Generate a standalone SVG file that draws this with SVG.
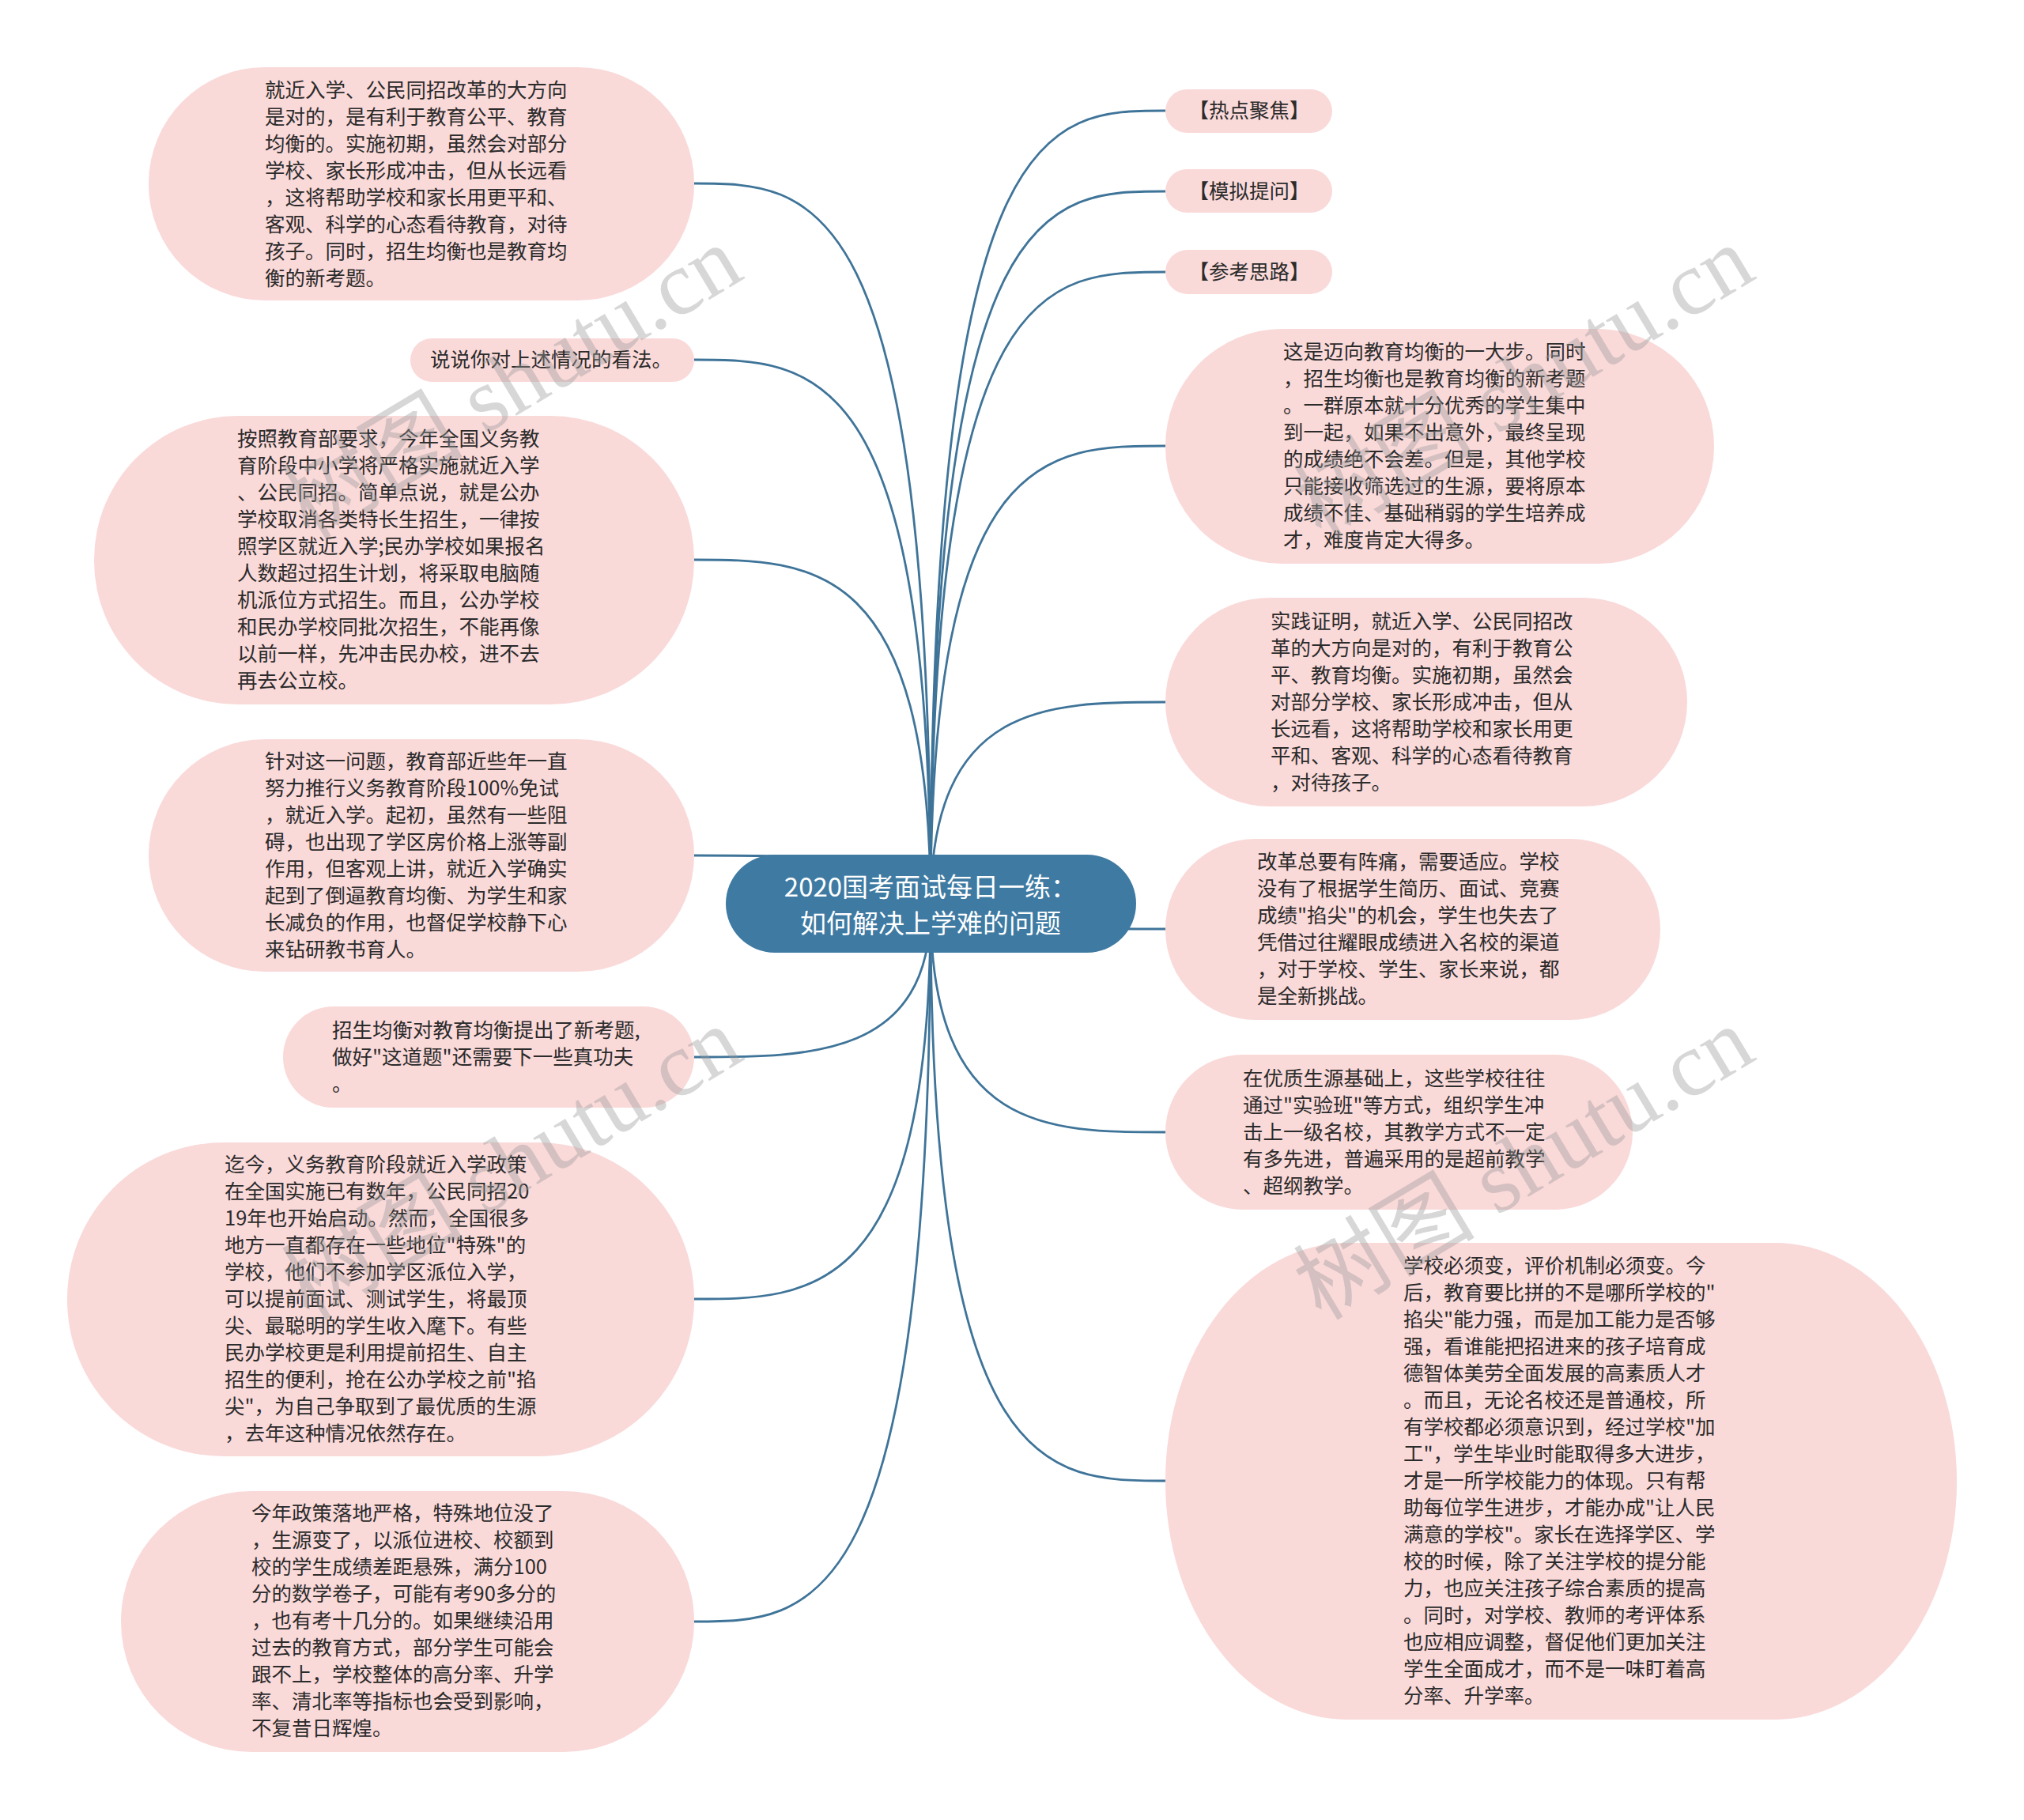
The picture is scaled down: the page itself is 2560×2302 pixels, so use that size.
<svg xmlns="http://www.w3.org/2000/svg" width="2560" height="2302" viewBox="0 0 2560 2302">
<style>
.pill{fill:#fad9d9;}
.t{font-family:"Noto Sans CJK SC","Noto Sans",sans-serif;font-size:25.5px;fill:#2b2b2b;}
.c{fill:none;stroke:#3f7499;stroke-width:2.8;}
.ct{font-family:"Noto Sans CJK SC","Noto Sans",sans-serif;font-size:33px;fill:#ffffff;text-anchor:middle;}
.wm{font-family:"Liberation Serif","Noto Sans CJK SC",serif;font-size:115px;fill:#9a9a9a;fill-opacity:0.4;text-anchor:end;}
</style>
<rect width="2560" height="2302" fill="#ffffff"/>
<g id="connectors">
<path class="c" d="M1177 1147 C1177 232,1027 232,878 232"/>
<path class="c" d="M1177 1147 C1177 455,1027 455,878 455"/>
<path class="c" d="M1177 1147 C1177 708,1027 708,878 708"/>
<path class="c" d="M1177 1147 C1177 1082,1027 1082,878 1082"/>
<path class="c" d="M1177 1147 C1177 1337,1027 1337,878 1337"/>
<path class="c" d="M1177 1147 C1177 1643,1027 1643,878 1643"/>
<path class="c" d="M1177 1147 C1177 2051,1027 2051,878 2051"/>
<path class="c" d="M1177 1147 C1177 140,1325 140,1474 140"/>
<path class="c" d="M1177 1147 C1177 242,1325 242,1474 242"/>
<path class="c" d="M1177 1147 C1177 344,1325 344,1474 344"/>
<path class="c" d="M1177 1147 C1177 564,1325 564,1474 564"/>
<path class="c" d="M1177 1147 C1177 888,1325 888,1474 888"/>
<path class="c" d="M1177 1147 C1177 1175,1325 1175,1474 1175"/>
<path class="c" d="M1177 1147 C1177 1432,1325 1432,1474 1432"/>
<path class="c" d="M1177 1147 C1177 1873,1325 1873,1474 1873"/>
</g>
<g id="center">
<rect x="918" y="1081" width="519" height="124" rx="62" fill="#3e7aa2"/>
<text class="ct" x="1177" y="1134">2020国考面试每日一练：</text>
<text class="ct" x="1177" y="1180">如何解决上学难的问题</text>
</g>
<g id="L1">
<rect class="pill" x="188" y="85" width="690" height="295" rx="147" ry="147"/>
<text class="t" x="335" y="122.5"><tspan x="335">就近入学、公民同招改革的大方向</tspan><tspan x="335" dy="34">是对的，是有利于教育公平、教育</tspan><tspan x="335" dy="34">均衡的。实施初期，虽然会对部分</tspan><tspan x="335" dy="34">学校、家长形成冲击，但从长远看</tspan><tspan x="335" dy="34">，这将帮助学校和家长用更平和、</tspan><tspan x="335" dy="34">客观、科学的心态看待教育，对待</tspan><tspan x="335" dy="34">孩子。同时，招生均衡也是教育均</tspan><tspan x="335" dy="34">衡的新考题。</tspan></text>
</g>
<g id="L2">
<rect class="pill" x="519" y="428" width="359" height="55" rx="27.5"/>
<text class="t" x="544" y="464">说说你对上述情况的看法。</text>
</g>
<g id="L3">
<rect class="pill" x="119" y="526" width="759" height="365" rx="182" ry="182"/>
<text class="t" x="300" y="564"><tspan x="300">按照教育部要求，今年全国义务教</tspan><tspan x="300" dy="34">育阶段中小学将严格实施就近入学</tspan><tspan x="300" dy="34">、公民同招。简单点说，就是公办</tspan><tspan x="300" dy="34">学校取消各类特长生招生，一律按</tspan><tspan x="300" dy="34">照学区就近入学;民办学校如果报名</tspan><tspan x="300" dy="34">人数超过招生计划，将采取电脑随</tspan><tspan x="300" dy="34">机派位方式招生。而且，公办学校</tspan><tspan x="300" dy="34">和民办学校同批次招生，不能再像</tspan><tspan x="300" dy="34">以前一样，先冲击民办校，进不去</tspan><tspan x="300" dy="34">再去公立校。</tspan></text>
</g>
<g id="L4">
<rect class="pill" x="188" y="935" width="690" height="294" rx="147" ry="147"/>
<text class="t" x="335" y="972"><tspan x="335">针对这一问题，教育部近些年一直</tspan><tspan x="335" dy="34">努力推行义务教育阶段100%免试</tspan><tspan x="335" dy="34">，就近入学。起初，虽然有一些阻</tspan><tspan x="335" dy="34">碍，也出现了学区房价格上涨等副</tspan><tspan x="335" dy="34">作用，但客观上讲，就近入学确实</tspan><tspan x="335" dy="34">起到了倒逼教育均衡、为学生和家</tspan><tspan x="335" dy="34">长减负的作用，也督促学校静下心</tspan><tspan x="335" dy="34">来钻研教书育人。</tspan></text>
</g>
<g id="L5">
<rect class="pill" x="358" y="1273" width="520" height="128" rx="64"/>
<text class="t" x="420" y="1312"><tspan x="420">招生均衡对教育均衡提出了新考题,</tspan><tspan x="420" dy="34">做好"这道题"还需要下一些真功夫</tspan><tspan x="420" dy="34">。</tspan></text>
</g>
<g id="L6">
<rect class="pill" x="85" y="1445" width="793" height="397" rx="198" ry="198"/>
<text class="t" x="284" y="1482"><tspan x="284">迄今，义务教育阶段就近入学政策</tspan><tspan x="284" dy="34">在全国实施已有数年，公民同招20</tspan><tspan x="284" dy="34">19年也开始启动。然而，全国很多</tspan><tspan x="284" dy="34">地方一直都存在一些地位"特殊"的</tspan><tspan x="284" dy="34">学校，他们不参加学区派位入学，</tspan><tspan x="284" dy="34">可以提前面试、测试学生，将最顶</tspan><tspan x="284" dy="34">尖、最聪明的学生收入麾下。有些</tspan><tspan x="284" dy="34">民办学校更是利用提前招生、自主</tspan><tspan x="284" dy="34">招生的便利，抢在公办学校之前"掐</tspan><tspan x="284" dy="34">尖"，为自己争取到了最优质的生源</tspan><tspan x="284" dy="34">，去年这种情况依然存在。</tspan></text>
</g>
<g id="L7">
<rect class="pill" x="153" y="1886" width="725" height="330" rx="165" ry="165"/>
<text class="t" x="318" y="1923"><tspan x="318">今年政策落地严格，特殊地位没了</tspan><tspan x="318" dy="34">，生源变了，以派位进校、校额到</tspan><tspan x="318" dy="34">校的学生成绩差距悬殊，满分100</tspan><tspan x="318" dy="34">分的数学卷子，可能有考90多分的</tspan><tspan x="318" dy="34">，也有考十几分的。如果继续沿用</tspan><tspan x="318" dy="34">过去的教育方式，部分学生可能会</tspan><tspan x="318" dy="34">跟不上，学校整体的高分率、升学</tspan><tspan x="318" dy="34">率、清北率等指标也会受到影响，</tspan><tspan x="318" dy="34">不复昔日辉煌。</tspan></text>
</g>
<g id="R1">
<rect class="pill" x="1474" y="113" width="211" height="55" rx="27.5"/>
<text class="t" x="1580" y="149" text-anchor="middle">【热点聚焦】</text>
</g>
<g id="R2">
<rect class="pill" x="1474" y="214" width="211" height="55" rx="27.5"/>
<text class="t" x="1580" y="251" text-anchor="middle">【模拟提问】</text>
</g>
<g id="R3">
<rect class="pill" x="1474" y="316" width="211" height="56" rx="28"/>
<text class="t" x="1580" y="353" text-anchor="middle">【参考思路】</text>
</g>
<g id="R4">
<rect class="pill" x="1474" y="416" width="694" height="297" rx="148" ry="148"/>
<text class="t" x="1623" y="454"><tspan x="1623">这是迈向教育均衡的一大步。同时</tspan><tspan x="1623" dy="34">，招生均衡也是教育均衡的新考题</tspan><tspan x="1623" dy="34">。一群原本就十分优秀的学生集中</tspan><tspan x="1623" dy="34">到一起，如果不出意外，最终呈现</tspan><tspan x="1623" dy="34">的成绩绝不会差。但是，其他学校</tspan><tspan x="1623" dy="34">只能接收筛选过的生源，要将原本</tspan><tspan x="1623" dy="34">成绩不佳、基础稍弱的学生培养成</tspan><tspan x="1623" dy="34">才，难度肯定大得多。</tspan></text>
</g>
<g id="R5">
<rect class="pill" x="1474" y="756" width="660" height="264" rx="132" ry="132"/>
<text class="t" x="1607" y="795"><tspan x="1607">实践证明，就近入学、公民同招改</tspan><tspan x="1607" dy="34">革的大方向是对的，有利于教育公</tspan><tspan x="1607" dy="34">平、教育均衡。实施初期，虽然会</tspan><tspan x="1607" dy="34">对部分学校、家长形成冲击，但从</tspan><tspan x="1607" dy="34">长远看，这将帮助学校和家长用更</tspan><tspan x="1607" dy="34">平和、客观、科学的心态看待教育</tspan><tspan x="1607" dy="34">，对待孩子。</tspan></text>
</g>
<g id="R6">
<rect class="pill" x="1474" y="1061" width="626" height="229" rx="114" ry="114"/>
<text class="t" x="1590" y="1099"><tspan x="1590">改革总要有阵痛，需要适应。学校</tspan><tspan x="1590" dy="34">没有了根据学生简历、面试、竞赛</tspan><tspan x="1590" dy="34">成绩"掐尖"的机会，学生也失去了</tspan><tspan x="1590" dy="34">凭借过往耀眼成绩进入名校的渠道</tspan><tspan x="1590" dy="34">，对于学校、学生、家长来说，都</tspan><tspan x="1590" dy="34">是全新挑战。</tspan></text>
</g>
<g id="R7">
<rect class="pill" x="1474" y="1334" width="591" height="196" rx="98" ry="98"/>
<text class="t" x="1572" y="1373"><tspan x="1572">在优质生源基础上，这些学校往往</tspan><tspan x="1572" dy="34">通过"实验班"等方式，组织学生冲</tspan><tspan x="1572" dy="34">击上一级名校，其教学方式不一定</tspan><tspan x="1572" dy="34">有多先进，普遍采用的是超前教学</tspan><tspan x="1572" dy="34">、超纲教学。</tspan></text>
</g>
<g id="R8">
<rect class="pill" x="1474" y="1572" width="1001" height="603" rx="230" ry="301"/>
<text class="t" x="1775" y="1610"><tspan x="1775">学校必须变，评价机制必须变。今</tspan><tspan x="1775" dy="34">后，教育要比拼的不是哪所学校的"</tspan><tspan x="1775" dy="34">掐尖"能力强，而是加工能力是否够</tspan><tspan x="1775" dy="34">强，看谁能把招进来的孩子培育成</tspan><tspan x="1775" dy="34">德智体美劳全面发展的高素质人才</tspan><tspan x="1775" dy="34">。而且，无论名校还是普通校，所</tspan><tspan x="1775" dy="34">有学校都必须意识到，经过学校"加</tspan><tspan x="1775" dy="34">工"，学生毕业时能取得多大进步，</tspan><tspan x="1775" dy="34">才是一所学校能力的体现。只有帮</tspan><tspan x="1775" dy="34">助每位学生进步，才能办成"让人民</tspan><tspan x="1775" dy="34">满意的学校"。家长在选择学区、学</tspan><tspan x="1775" dy="34">校的时候，除了关注学校的提分能</tspan><tspan x="1775" dy="34">力，也应关注孩子综合素质的提高</tspan><tspan x="1775" dy="34">。同时，对学校、教师的考评体系</tspan><tspan x="1775" dy="34">也应相应调整，督促他们更加关注</tspan><tspan x="1775" dy="34">学生全面成才，而不是一味盯着高</tspan><tspan x="1775" dy="34">分率、升学率。</tspan></text>
</g>
<g id="watermarks">
<text class="wm" transform="translate(944,351) rotate(-31)">树图 shutu.cn</text>
<text class="wm" transform="translate(2224,351) rotate(-31)">树图 shutu.cn</text>
<text class="wm" transform="translate(944,1339) rotate(-31)">树图 shutu.cn</text>
<text class="wm" transform="translate(2224,1339) rotate(-31)">树图 shutu.cn</text>
</g>
</svg>
